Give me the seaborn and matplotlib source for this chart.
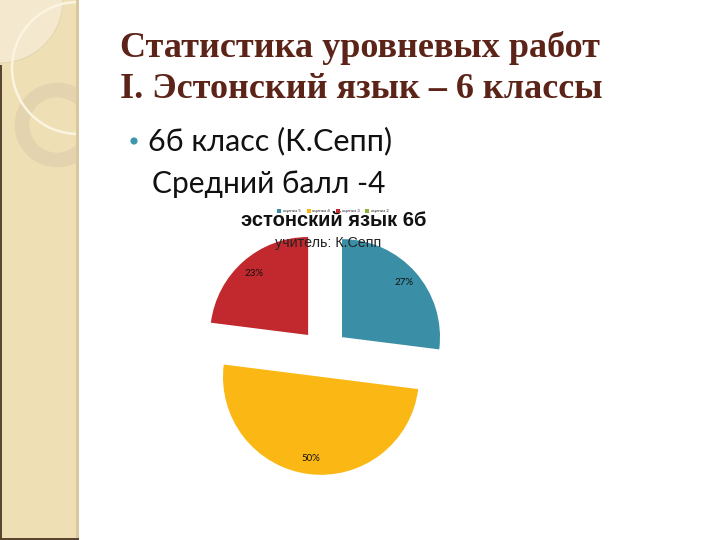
import matplotlib
matplotlib.use("Agg")
import matplotlib.pyplot as plt
import seaborn as sns
from matplotlib.patches import Rectangle, Circle, Patch

# ---- data ----
grades = ["оценка 5", "оценка 4", "оценка 3", "оценка 2"]
shares = [27, 50, 23, 0]
colors = ["#3a8fa7", "#fbb714", "#c1292e", "#8cb23c"]

slide_title = ["Статистика уровневых работ", "I. Эстонский язык – 6 классы"]
bullet_text = "6б класс (К.Сепп)"
sub_text = "Средний балл -4"
chart_title = "эстонский язык 6б"
chart_subtitle = "учитель: К.Сепп"

sns.set_theme(style="white")
plt.rcParams["font.family"] = ["Lato", "DejaVu Sans"]

W, H = 720, 540
fig = plt.figure(figsize=(7.2, 5.4), dpi=100)
ax = fig.add_axes([0, 0, 1, 1])

def Y(y):
    return H - y

# ---- slide background ----
panel = Rectangle((0, 0), 78, H, facecolor="#efdfb4", edgecolor="none", zorder=0)
ax.add_patch(panel)
deco = [
    Circle((0, Y(0)), 63, facecolor="#f4e9cf", edgecolor="#e2d2ac", lw=0.6, zorder=0.3),
    Circle((57, Y(125)), 35, facecolor="none", edgecolor="#e3d4af", lw=10.5, zorder=0.4),
    Circle((78, Y(68)), 66, facecolor="none", edgecolor="#fbf4e0", lw=1.8, zorder=0.5),
]
for p in deco:
    ax.add_patch(p)
    p.set_clip_path(panel)
ax.add_patch(Rectangle((75.5, 0), 3.5, H, facecolor="#d9c89f", edgecolor="none", zorder=0.6))
ax.add_patch(Rectangle((0, 0), 1.5, Y(65), facecolor="#5a4630", edgecolor="none", zorder=0.7))
ax.add_patch(Rectangle((0, 0), 79, 2, facecolor="#5a4630", edgecolor="none", zorder=0.7))

# ---- slide texts ----
ax.text(120, Y(48), slide_title[0], family="Liberation Serif", weight="bold",
        fontsize=26, color="#5c2418", va="center", ha="left")
ax.text(120, Y(90), slide_title[1], family="Liberation Serif", weight="bold",
        fontsize=26, color="#5c2418", va="center", ha="left")
ax.add_patch(Circle((134, Y(141)), 3.6, facecolor="#3d96ad", edgecolor="none"))
ax.text(148, Y(141), bullet_text, fontsize=22, color="#111111", va="center", ha="left")
ax.text(152, Y(184), sub_text, fontsize=21.5, color="#111111", va="center", ha="left")

# ---- pie ----
vals = [v for v in shares if v > 0]
cols = [c for c, v in zip(colors, shares) if v > 0]
wedges, texts, autotexts = ax.pie(
    vals, colors=cols, startangle=90, counterclock=False,
    explode=[24] * len(vals), center=(324, Y(353)), radius=98,
    autopct="%d%%", pctdistance=0.84, frame=True,
    textprops=dict(fontsize=7, color="#111111"),
    wedgeprops=dict(linewidth=0))
ax.set_xlim(0, W)
ax.set_ylim(0, H)
ax.set_aspect("auto")
ax.axis("off")

ax.text(334, Y(221), chart_title, family="Liberation Sans", weight="bold",
        fontsize=14.5, color="#111111", ha="center", va="center", zorder=3)
ax.text(328, Y(243), chart_subtitle, family="Liberation Sans",
        fontsize=10.3, color="#222222", ha="center", va="center", zorder=3)

handles = [Patch(facecolor=c, edgecolor="none") for c in colors]
leg = fig.legend(handles, grades, loc="center", ncol=4,
                 bbox_to_anchor=(333 / W, 1 - 211 / H), frameon=False,
                 fontsize=3.2, handlelength=0.9, handleheight=0.9,
                 handletextpad=0.4, columnspacing=1.3)
leg.set_zorder(2)

fig.savefig("out.png", dpi=100)
